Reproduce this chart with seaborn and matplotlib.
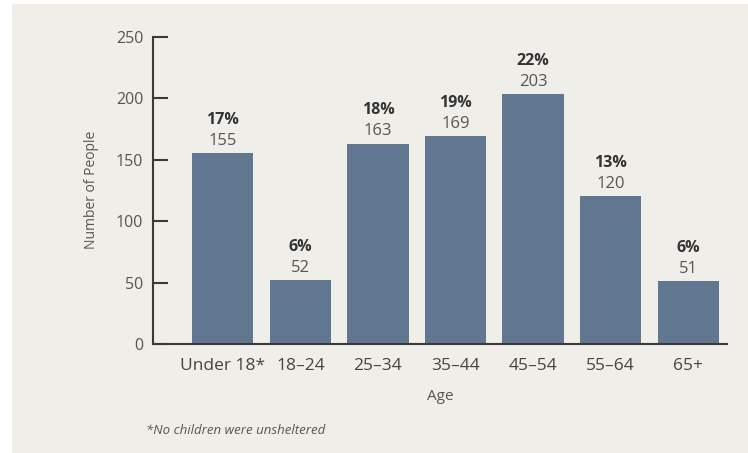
import matplotlib
matplotlib.use('Agg')
import matplotlib.pyplot as plt
import matplotlib.patches as mpatches
import seaborn as sns
import pandas as pd

ages = ['Under 18*', '18–24', '25–34', '35–44', '45–54', '55–64', '65+']
people = [155, 52, 163, 169, 203, 120, 51]
pcts = ['17%', '6%', '18%', '19%', '22%', '13%', '6%']

df = pd.DataFrame({'age': ages, 'people': people})

sns.set_style('white')
plt.rcParams['font.family'] = ['Open Sans', 'DejaVu Sans']

bg = '#f0eee8'
bar_col = '#61778f'
txt = '#555555'

fig = plt.figure(figsize=(7.48, 4.53), dpi=100, facecolor='white')
# beige panel behind the chart
fig.patches.append(mpatches.Rectangle((12 / 748, 0), 1, 1 - 4 / 453, transform=fig.transFigure,
                                      facecolor=bg, edgecolor='none', zorder=-10))
ax = fig.add_axes([0.2045, 0.2406, 0.7675, 0.6784])
ax.set_facecolor('none')

sns.barplot(data=df, x='age', y='people', color=bar_col, width=0.79, saturation=1,
            linewidth=0, edgecolor='none', ax=ax)

for i, (v, p) in enumerate(zip(people, pcts)):
    ax.annotate(str(v), (i, v), xytext=(0, 6), textcoords='offset points',
                ha='center', va='baseline', fontsize=12, color=txt)
    ax.annotate(p, (i, v), xytext=(0, 21), textcoords='offset points',
                ha='center', va='baseline', fontsize=11.5, color='#333333', fontweight='bold')

ax.set_xlim(-0.9, 6.5)
ax.set_ylim(0, 250)
ax.set_yticks([0, 50, 100, 150, 200, 250])
sns.despine(ax=ax)
for s in ['left', 'bottom']:
    ax.spines[s].set_color('#3a3a3a')
    ax.spines[s].set_linewidth(1.5)
ax.tick_params(axis='y', left=True, direction='in', length=11, width=1.5, color='#3a3a3a',
               labelsize=11.5, labelcolor=txt, pad=7)
ax.tick_params(axis='x', length=0, labelsize=12.5, labelcolor='#444444', pad=10)

ax.set_xlabel('Age', fontsize=11, color=txt, labelpad=11)
ax.set_ylabel('Number of People', fontsize=10, color=txt, labelpad=12)

fig.text(146 / 748, 1 - 430 / 453, '*No children were unsheltered', fontsize=9.5,
         style='italic', color=txt, va='center')

fig.savefig('out.png', dpi=100, facecolor='white')
